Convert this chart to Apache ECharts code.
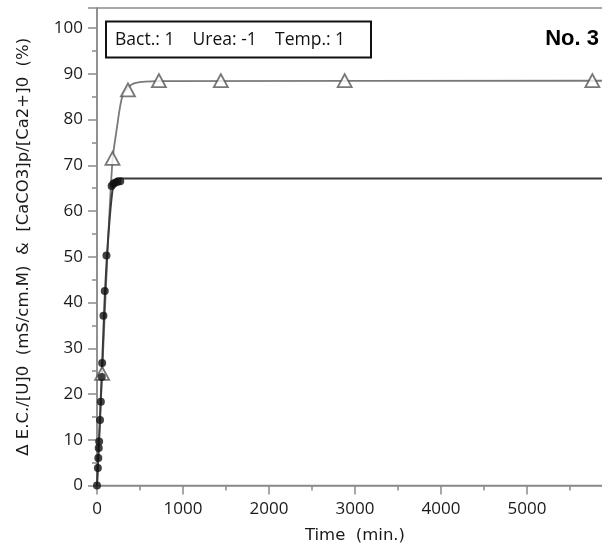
<!DOCTYPE html>
<html><head><meta charset="utf-8">
<script src="https://cdn.jsdelivr.net/npm/echarts@6/dist/echarts.min.js"></script>
<style>html,body{margin:0;padding:0;background:#fff;overflow:hidden}#c{width:602px;height:550px}</style>
</head><body><div id="c"></div>
<script>
// Measured data (time in min, value in %)
const circleTime = [0, 10, 15, 20, 25, 35, 45, 55, 60, 75, 90, 110, 170, 190, 210, 240, 270];
const circleVal  = [0, 3.8, 6, 8.2, 9.6, 14.3, 18.3, 23.7, 26.8, 37.1, 42.5, 50.3, 65.5, 66, 66.2, 66.4, 66.5];
const triTime = [60, 180, 360, 720, 1440, 2880, 5760];
const triVal  = [24.5, 71.5, 86.5, 88.5, 88.5, 88.5, 88.5];
// Fitted curves
const fitBlackTime = [0, 30, 60, 90, 120, 150, 180, 200, 230, 300, 6000];
const fitBlackVal  = [0, 12.5, 26.5, 41, 51.5, 59, 64.5, 66.5, 67.1, 67.1, 67.1];
const fitGrayTime = [0, 60, 120, 180, 230, 270, 300, 360, 440, 720, 6000];
const fitGrayVal  = [0, 24.5, 50, 71, 78, 83, 85.3, 87, 88, 88.4, 88.5];
const xTicks = [0, 1000, 2000, 3000, 4000, 5000];
const yTicks = [0, 10, 20, 30, 40, 50, 60, 70, 80, 90, 100];
const legendText = 'Bact.: 1    Urea: -1    Temp.: 1';
const panelLabel = 'No. 3';

const zip = (a, b) => a.map((v, i) => [v, b[i]]);
const chart = echarts.init(document.getElementById('c'), null, {renderer: 'canvas'});
const axisCol = '#8a8a8a';
const labFont = {color: '#1a1a1a', fontSize: 17, fontFamily: 'Open Sans'};
chart.setOption({
  animation: false,
  backgroundColor: '#fff',
  grid: {left: 97, top: 8, width: 516, height: 477.5, outerBoundsMode: 'none', containLabel: false,
         show: true, borderColor: axisCol, borderWidth: 1.5, backgroundColor: 'transparent'},
  xAxis: {
    type: 'value', min: 0, max: 6000, interval: 1000,
    name: 'Time  (min.)', nameLocation: 'middle', nameGap: 42,
    nameTextStyle: {color: '#1a1a1a', fontSize: 16.5, fontFamily: 'DejaVu Sans'},
    axisLine: {show: true, lineStyle: {color: axisCol, width: 1.5}},
    axisTick: {show: true, length: 9, lineStyle: {color: axisCol, width: 1.5}},
    minorTick: {show: true, splitNumber: 2, length: 5, lineStyle: {color: axisCol, width: 1.5}},
    axisLabel: Object.assign({margin: 15, showMaxLabel: false,
      formatter: v => xTicks.includes(Math.round(v)) ? String(Math.round(v)) : ''}, labFont),
    splitLine: {show: false}
  },
  yAxis: {
    type: 'value', min: 0, max: 104.4, interval: 10,
    name: 'Δ E.C./[U]0  (mS/cm.M)  &  [CaCO3]p/[Ca2+]0  (%)',
    nameLocation: 'middle', nameGap: 65, nameRotate: 90,
    nameTextStyle: {color: '#1a1a1a', fontSize: 16.5, fontFamily: 'DejaVu Sans'},
    axisLine: {show: true, lineStyle: {color: axisCol, width: 1.5}},
    axisTick: {show: true, length: 9, lineStyle: {color: axisCol, width: 1.5}},
    minorTick: {show: true, splitNumber: 2, length: 5, lineStyle: {color: axisCol, width: 1.5}},
    axisLabel: Object.assign({margin: 14, showMaxLabel: false,
      formatter: v => yTicks.includes(Math.round(v)) && Math.abs(v - Math.round(v)) < 1e-6 ? String(Math.round(v)) : ''}, labFont),
    splitLine: {show: false}
  },
  series: [
    {type: 'line', data: zip(fitGrayTime, fitGrayVal), smooth: 0.3, showSymbol: false,
     lineStyle: {color: '#7a7a7a', width: 1.8}, z: 2},
    {type: 'line', data: zip(fitBlackTime, fitBlackVal), smooth: 0.2, showSymbol: false,
     lineStyle: {color: '#3a3a3a', width: 2}, z: 3},
    {type: 'scatter', data: zip(triTime, triVal), symbol: 'triangle', symbolSize: [14, 13],
     itemStyle: {color: '#fff', borderColor: '#555', borderWidth: 1.8}, z: 4},
    {type: 'scatter', data: zip(circleTime, circleVal), symbol: 'circle', symbolSize: 8,
     itemStyle: {color: '#111'}, z: 5}
  ],
  graphic: [
    {type: 'rect', shape: {x: 106, y: 21.5, width: 265, height: 36},
     style: {fill: '#fff', stroke: '#111', lineWidth: 2}, z: 10},
    {type: 'text', x: 115, y: 40, z: 11,
     style: {text: legendText, fill: '#111', font: '17.5px "Open Sans"', textVerticalAlign: 'middle'}},
    {type: 'text', right: 3, top: 28, z: 11,
     style: {text: panelLabel, fill: '#000', font: 'bold 22px "Liberation Sans"'}}
  ]
});
</script></body></html>
